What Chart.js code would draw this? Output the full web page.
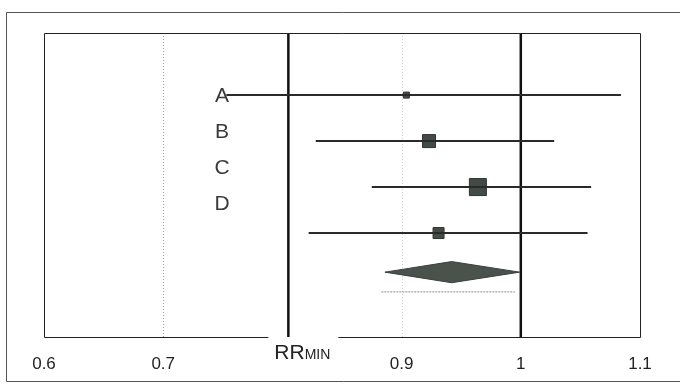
<!DOCTYPE html>
<html>
<head>
<meta charset="utf-8">
<script src="https://cdn.jsdelivr.net/npm/chart.js@4"></script>
<style>
  html, body { margin: 0; padding: 0; background: #fff; }
</style>
</head>
<body>
<canvas id="forestChart" width="680" height="389"></canvas>
<script>
// === Forest plot data ===
const studies = ['A', 'B', 'C', 'D'];
const estimate = [0.904, 0.923, 0.964, 0.931];
const lower = [0.753, 0.828, 0.875, 0.822];
const upper = [1.084, 1.028, 1.059, 1.056];
const pooled = [0.886, 0.942, 0.999];      // lower, estimate, upper
const pooledBand = [0.883, 0.995];
const rrMin = 0.805;
const xTicks = [0.6, 0.7, 0.9, 1, 1.1];

const FONT = '"Liberation Sans", Arial, sans-serif';
const boxSide = [6, 13, 17, 11];
const pooledRow = 4.85, bandRow = 5.28, diamondHalf = 0.23;

const datasets = [];
studies.forEach((s, i) => {
  datasets.push({
    type: 'line',
    data: [{ x: lower[i], y: i + 1 }, { x: upper[i], y: i + 1 }],
    borderColor: '#2a2a2a',
    borderWidth: 2,
    pointRadius: 0
  });
});
datasets.push({
  type: 'scatter',
  data: estimate.map((v, i) => ({ x: v, y: i + 1 })),
  pointStyle: 'rect',
  pointRadius: boxSide.map(s => s / Math.SQRT2),
  backgroundColor: '#434b47',
  borderColor: '#2f3431',
  borderWidth: 1
});
datasets.push({
  type: 'line',
  data: [
    { x: pooled[0], y: pooledRow },
    { x: pooled[1], y: pooledRow - diamondHalf },
    { x: pooled[2], y: pooledRow },
    { x: pooled[1], y: pooledRow + diamondHalf },
    { x: pooled[0], y: pooledRow }
  ],
  borderColor: '#3a403d',
  borderWidth: 1,
  backgroundColor: '#4a524e',
  fill: 'shape',
  pointRadius: 0,
  tension: 0
});
datasets.push({
  type: 'line',
  data: [{ x: pooledBand[0], y: bandRow }, { x: pooledBand[1], y: bandRow }],
  borderColor: '#8a8a8a',
  borderWidth: 1,
  borderDash: [2, 1],
  pointRadius: 0
});

// frame, reference lines and text labels
const decorations = {
  id: 'decorations',
  beforeDatasetsDraw(chart) {
    const { ctx, chartArea: a, scales: { x } } = chart;
    ctx.save();
    // outer frame
    ctx.strokeStyle = '#555';
    ctx.lineWidth = 1;
    ctx.beginPath();
    ctx.moveTo(700, 12.5);
    ctx.lineTo(6.5, 12.5);
    ctx.lineTo(6.5, 381.5);
    ctx.lineTo(700, 381.5);
    ctx.stroke();
    // faint dotted verticals
    ctx.lineWidth = 1;
    ctx.setLineDash([1, 2]);
    ctx.strokeStyle = '#9a9a9a';
    let px = Math.round(x.getPixelForValue(0.7)) + 0.5;
    ctx.beginPath(); ctx.moveTo(px, a.top); ctx.lineTo(px, a.bottom); ctx.stroke();
    ctx.strokeStyle = '#d0d0d0';
    px = Math.round(x.getPixelForValue(0.9)) + 0.5;
    ctx.beginPath(); ctx.moveTo(px, a.top); ctx.lineTo(px, a.bottom); ctx.stroke();
    ctx.setLineDash([]);
    // RRmin and no-effect lines
    ctx.strokeStyle = '#111';
    ctx.lineWidth = 2.5;
    [rrMin, 1].forEach(v => {
      const p = x.getPixelForValue(v);
      ctx.beginPath(); ctx.moveTo(p, a.top); ctx.lineTo(p, a.bottom); ctx.stroke();
    });
    ctx.restore();
  },
  afterDraw(chart) {
    const { ctx, chartArea: a, scales: { x, y } } = chart;
    ctx.save();
    // RRMIN label
    const rrX = x.getPixelForValue(rrMin) - 14;
    const rrY = 359;
    ctx.fillStyle = '#222';
    ctx.textBaseline = 'alphabetic';
    ctx.textAlign = 'left';
    ctx.font = '21px ' + FONT;
    ctx.fillText('RR', rrX, rrY);
    const wRR = ctx.measureText('RR').width;
    ctx.font = '14px ' + FONT;
    ctx.fillText('MIN', rrX + wRR, rrY);
    const wMin = ctx.measureText('MIN').width;
    // plot frame, bottom edge broken around the label
    ctx.strokeStyle = '#222';
    ctx.lineWidth = 1;
    const l = a.left + 0.5, r = a.right + 0.5, t = a.top + 0.5, b = a.bottom + 0.5;
    ctx.beginPath();
    ctx.moveTo(rrX - 6, b);
    ctx.lineTo(l, b);
    ctx.lineTo(l, t);
    ctx.lineTo(r, t);
    ctx.lineTo(r, b);
    ctx.lineTo(rrX + wRR + wMin + 8, b);
    ctx.stroke();
    // tick labels
    ctx.font = '17px ' + FONT;
    ctx.textAlign = 'center';
    ctx.textBaseline = 'middle';
    xTicks.forEach(v => ctx.fillText(String(v), x.getPixelForValue(v), 364));
    // study labels
    ctx.font = '21px ' + FONT;
    ctx.fillStyle = '#3a3a3a';
    const y0 = y.getPixelForValue(1);
    studies.forEach((s, i) => ctx.fillText(s, 222, y0 + i * 36 + 1));
    ctx.restore();
  }
};

const ctxForest = document.getElementById('forestChart').getContext('2d');
new Chart(ctxForest, {
  type: 'scatter',
  data: { datasets },
  options: {
    responsive: false,
    animation: false,
    layout: { padding: { left: 44, right: 40, top: 33, bottom: 52 } },
    plugins: {
      legend: { display: false },
      tooltip: { enabled: false }
    },
    scales: {
      x: { type: 'linear', min: 0.6, max: 1.1, display: false },
      y: { type: 'linear', min: -0.35, max: 6.26, reverse: true, display: false }
    }
  },
  plugins: [decorations]
});
</script>
</body>
</html>
